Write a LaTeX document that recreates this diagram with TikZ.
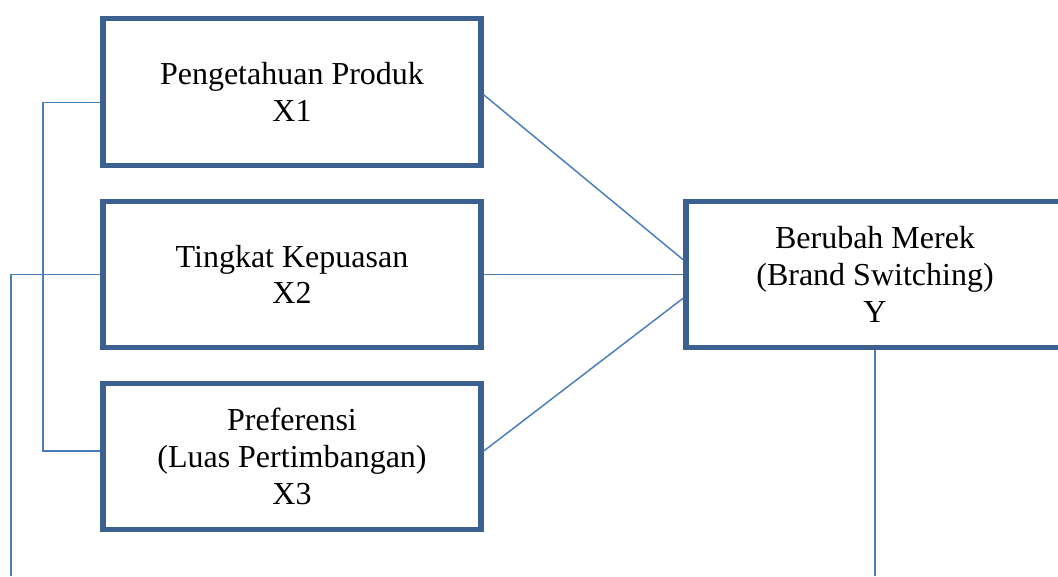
\documentclass[tikz,border=0pt]{standalone}
\usepackage[rgb]{xcolor}
\usepackage{fontspec}
\setmainfont{Liberation Serif}
\usepackage{tikz}

\definecolor{boxblue}{HTML}{3C6090}
\definecolor{lineblue}{HTML}{4A7EBB}

\tikzset{
  varbox/.style={draw=boxblue, fill=white, line width=3.8pt, minimum width=283.5pt,
    minimum height=110pt, align=center, inner sep=0pt,
    font=\fontsize{24}{27.5}\selectfont},
  link/.style={draw=lineblue, line width=1.1pt}
}

\begin{document}
\begin{tikzpicture}[x=0.75pt, y=-0.75pt]

\useasboundingbox (0,0) rectangle (1058,576);

%% variables X
\path
(292,92) node[varbox] (xone){Pengetahuan Produk\\X1};
\path
(292,274.5) node[varbox] (xtwo){Tingkat Kepuasan\\X2};
\path
(292,456.5) node[varbox] (xthree){Preferensi\\(Luas Pertimbangan)\\X3};

%% variable Y
\path
(875,274.5) node[varbox] (ybox){Berubah Merek\\(Brand Switching)\\Y};

\coordinate (busone) at (43,300);
\coordinate (endtwo) at (11,576);
\coordinate (endy) at (875,576);

% X to Y
\draw[link] ([yshift=-2pt]xone.east) -- ([yshift=10.9pt]ybox.west);
\draw[link] (xtwo.east) -- (ybox.west);
\draw[link] ([yshift=4pt]xthree.east) -- ([yshift=-17.6pt]ybox.west);

% lines at the left and below
\draw[link] ([yshift=-8pt]xone.west) -| (busone) |- ([yshift=4pt]xthree.west);
\draw[link] (xtwo.west) -| (endtwo);
\draw[link] (ybox.south) -- (endy);

\end{tikzpicture}
\end{document}
